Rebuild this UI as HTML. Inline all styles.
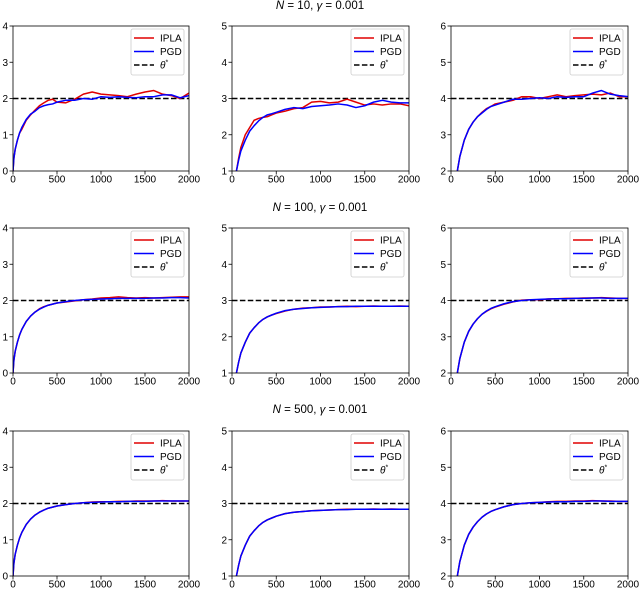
<!DOCTYPE html>
<html><head><meta charset="utf-8"><style>
html,body{margin:0;padding:0;background:#fff;width:640px;height:590px;overflow:hidden;}
svg{display:block;font-family:"Liberation Sans","DejaVu Sans",sans-serif;}
</style></head><body>
<svg id="fig" width="640" height="590" xmlns="http://www.w3.org/2000/svg"></svg>
<script>
const steps=[0,10,25,50,75,100,150,200,250,300,350,400,450,500,600,700,800,900,1000,1100,1200,1300,1400,1500,1600,1700,1800,1900,2000];
const rowTitlesN=["10","100","500"];
const thetaStar=[2,3,4];
const yMins=[0,1,2];
const xTicks=[0,500,1000,1500,2000];
// row 1
const r1c1IPLA=[0,0.35,0.6,0.85,1.05,1.15,1.4,1.55,1.68,1.8,1.88,1.95,1.98,1.9,1.88,1.98,2.12,2.18,2.12,2.1,2.08,2.05,2.12,2.18,2.22,2.12,2.08,2.0,2.15];
const r1c1PGD=[0,0.35,0.6,0.85,1.05,1.2,1.42,1.57,1.65,1.75,1.8,1.83,1.85,1.9,1.95,1.95,2.0,1.98,2.05,2.03,2.05,2.03,2.02,2.05,2.05,2.1,2.1,2.02,2.08];
const r1c2IPLA=[0,0.3,0.65,1.0,1.35,1.65,2.0,2.2,2.4,2.45,2.48,2.5,2.55,2.6,2.65,2.72,2.75,2.9,2.92,2.88,2.9,2.98,2.9,2.82,2.85,2.82,2.85,2.85,2.8];
const r1c2PGD=[0,0.3,0.65,1.0,1.3,1.55,1.85,2.1,2.25,2.38,2.48,2.55,2.58,2.62,2.7,2.75,2.72,2.78,2.8,2.82,2.85,2.82,2.75,2.8,2.9,2.95,2.9,2.88,2.88];
const r1c3IPLA=[0,0.5,0.9,1.6,2.05,2.4,2.85,3.15,3.35,3.5,3.62,3.72,3.78,3.85,3.9,3.95,4.05,4.05,4.0,4.05,4.1,4.05,4.08,4.1,4.12,4.1,4.15,4.05,4.05];
const r1c3PGD=[0,0.5,0.9,1.6,2.05,2.4,2.85,3.15,3.35,3.5,3.6,3.7,3.78,3.82,3.9,3.98,3.98,4.0,4.02,4.0,4.05,4.03,4.05,4.05,4.15,4.22,4.12,4.08,4.05];
// row 2
const r2c1IPLA=[0,0.35,0.6,0.85,1.05,1.2,1.42,1.57,1.68,1.77,1.83,1.87,1.9,1.93,1.96,1.99,2.02,2.04,2.07,2.08,2.1,2.08,2.07,2.08,2.07,2.08,2.09,2.1,2.1];
const r2c1PGD=[0,0.35,0.6,0.85,1.05,1.2,1.42,1.57,1.68,1.76,1.82,1.87,1.9,1.93,1.97,2.0,2.02,2.03,2.04,2.05,2.06,2.06,2.06,2.06,2.07,2.07,2.08,2.08,2.07];
const r2c2IPLA=[0,0.3,0.65,1.0,1.3,1.55,1.85,2.1,2.25,2.38,2.48,2.55,2.6,2.64,2.71,2.76,2.79,2.8,2.82,2.82,2.83,2.84,2.83,2.84,2.85,2.84,2.84,2.85,2.84];
const r2c2PGD=[0,0.3,0.65,1.0,1.3,1.55,1.85,2.1,2.25,2.38,2.48,2.55,2.6,2.65,2.72,2.76,2.78,2.8,2.81,2.82,2.83,2.83,2.84,2.84,2.84,2.84,2.84,2.84,2.84];
const r2c3IPLA=[0,0.5,0.9,1.6,2.05,2.4,2.85,3.15,3.35,3.5,3.62,3.7,3.77,3.82,3.9,3.96,4.01,4.02,4.02,4.04,4.05,4.06,4.06,4.07,4.07,4.08,4.07,4.06,4.06];
const r2c3PGD=[0,0.5,0.9,1.6,2.05,2.4,2.85,3.15,3.35,3.5,3.62,3.71,3.78,3.83,3.91,3.97,4.0,4.02,4.03,4.04,4.05,4.05,4.06,4.06,4.07,4.07,4.06,4.06,4.06];
// row 3
const r3c1IPLA=[0,0.35,0.6,0.85,1.05,1.2,1.42,1.57,1.68,1.76,1.82,1.87,1.9,1.93,1.97,2.0,2.02,2.04,2.05,2.05,2.06,2.06,2.07,2.07,2.07,2.08,2.07,2.07,2.07];
const r3c1PGD=[0,0.35,0.6,0.85,1.05,1.2,1.42,1.57,1.68,1.76,1.82,1.87,1.9,1.93,1.97,2.0,2.02,2.03,2.04,2.05,2.05,2.06,2.06,2.06,2.07,2.07,2.07,2.07,2.07];
const r3c2IPLA=[0,0.3,0.65,1.0,1.3,1.55,1.85,2.1,2.25,2.38,2.48,2.55,2.6,2.65,2.72,2.76,2.78,2.8,2.81,2.82,2.83,2.84,2.84,2.84,2.85,2.84,2.85,2.84,2.84];
const r3c2PGD=[0,0.3,0.65,1.0,1.3,1.55,1.85,2.1,2.25,2.38,2.48,2.55,2.6,2.65,2.72,2.76,2.78,2.8,2.81,2.82,2.83,2.83,2.84,2.84,2.84,2.84,2.84,2.84,2.84];
const r3c3IPLA=[0,0.5,0.9,1.6,2.05,2.4,2.85,3.15,3.35,3.5,3.62,3.71,3.78,3.83,3.91,3.97,4.0,4.02,4.03,4.05,4.06,4.06,4.07,4.07,4.08,4.07,4.07,4.06,4.06];
const r3c3PGD=[0,0.5,0.9,1.6,2.05,2.4,2.85,3.15,3.35,3.5,3.62,3.71,3.78,3.83,3.91,3.97,4.0,4.02,4.03,4.04,4.05,4.05,4.06,4.06,4.07,4.07,4.06,4.06,4.06];

const ipla=[[r1c1IPLA,r1c2IPLA,r1c3IPLA],[r2c1IPLA,r2c2IPLA,r2c3IPLA],[r3c1IPLA,r3c2IPLA,r3c3IPLA]];
const pgd=[[r1c1PGD,r1c2PGD,r1c3PGD],[r2c1PGD,r2c2PGD,r2c3PGD],[r3c1PGD,r3c2PGD,r3c3PGD]];

const NS="http://www.w3.org/2000/svg";
const svg=document.getElementById('fig');
function mk(tag,attrs,parent){const e=document.createElementNS(NS,tag);for(const k in attrs)e.setAttribute(k,attrs[k]);(parent||svg).appendChild(e);return e;}
const colX=[[13,189],[232,409],[451,628]];
const rowY=[[26,171],[228,373],[431,576]];
const titleY=[9,211,413];

for(let r=0;r<3;r++){
  const t=mk('text',{x:320,y:titleY[r],'text-anchor':'middle','font-size':'11.5'});
  
  
  t.innerHTML='<tspan font-style="italic">N</tspan> = '+rowTitlesN[r]+', <tspan font-style="italic">γ</tspan> = 0.001';
  for(let c=0;c<3;c++){
    const [x0,x1]=colX[c],[y0,y1]=rowY[r];
    const ymin=yMins[c],ymax=ymin+4;
    const sx=v=>x0+(v-0)/2000*(x1-x0);
    const sy=v=>y1-(v-ymin)/(ymax-ymin)*(y1-y0);
    const g=mk('g',{});
    
    
    const cid='clip'+r+c;
    const cp=mk('clipPath',{id:cid},g);mk('rect',{x:x0,y:y0,width:x1-x0,height:y1-y0},cp);
    const th=mk('line',{x1:x0,x2:x1,y1:sy(thetaStar[c]),y2:sy(thetaStar[c]),stroke:'#000','stroke-width':1.5,'stroke-dasharray':'5.5,2.4'},g);
    
    
    const series=[[ipla[r][c],'#e00000','ipla-line'],[pgd[r][c],'#0000ff','pgd-line']];
    for(const [arr,col,nm] of series){
      const d=arr.map((v,i)=>(i?'L':'M')+sx(steps[i]).toFixed(2)+','+sy(v).toFixed(2)).join('');
      const p=mk('path',{d:d,fill:'none',stroke:col,'stroke-width':1.5,'clip-path':'url(#'+cid+')','stroke-linejoin':'round'},g);
      
      
    }
    mk('rect',{x:x0,y:y0,width:x1-x0,height:y1-y0,fill:'none',stroke:'#000','stroke-width':0.8},g);
    for(const xv of xTicks){
      const X=sx(xv);
      mk('line',{x1:X,x2:X,y1:y1,y2:y1+3.5,stroke:'#000','stroke-width':0.8},g);
      const tl=mk('text',{x:X,y:y1+11.5,'text-anchor':'middle','font-size':'10'},g);
      
      
      tl.textContent=xv;
    }
    for(let k=0;k<=4;k++){
      const v=ymin+k,Y=sy(v);
      mk('line',{x1:x0-3.5,x2:x0,y1:Y,y2:Y,stroke:'#000','stroke-width':0.8},g);
      const tl=mk('text',{x:x0-5,y:Y+3.6,'text-anchor':'end','font-size':'10'},g);
      
      
      tl.textContent=v;
    }
    const lg=mk('g',{},g);
    
    
    const lx=x1-58,ly=y0+3;
    mk('rect',{x:lx,y:ly,width:53,height:46,rx:2,fill:'#fff',stroke:'#ccc','stroke-width':0.8},lg);
    const ent=[['#e00000','IPLA',null],['#0000ff','PGD',null],['#000','θ*','5.5,2.4']];
    ent.forEach((e,i)=>{
      const Y=ly+9+i*13.5;
      const a={x1:lx+3,x2:lx+23,y1:Y,y2:Y,stroke:e[0],'stroke-width':1.5};
      if(e[2])a['stroke-dasharray']=e[2];
      mk('line',a,lg);
      const tx=mk('text',{x:lx+29,y:Y+3.5,'font-size':'10'},lg);
      
      
      if(i==2)tx.innerHTML='<tspan font-style="italic">θ</tspan><tspan font-size="7" dy="-4">*</tspan>';
      else tx.textContent=e[1];
    });
  }
}
</script>
</body></html>
